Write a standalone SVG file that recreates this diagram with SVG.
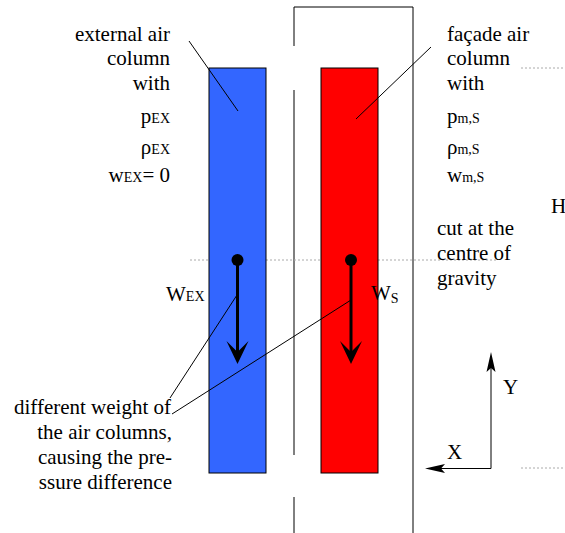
<svg xmlns="http://www.w3.org/2000/svg" width="565" height="533" viewBox="0 0 565 533" font-family="'Liberation Serif', 'Times New Roman', serif">
<style>
text{font-family:'Liberation Serif','Times New Roman',serif;font-size:21px;fill:#000}
.sub{font-size:14px}
.r{text-anchor:end}
.thin{stroke:#000;stroke-width:1;fill:none}
.dash{stroke:#aaa;stroke-width:1;stroke-dasharray:2,2;fill:none}
.force{stroke:#000;stroke-width:3;fill:none}
</style>
<rect width="565" height="533" fill="#fff"/>
<g id="facade-frame" class="thin">
<polyline points="294,46 294,7 413,7 413,533"/>
<line x1="294" y1="90" x2="294" y2="455"/>
<line x1="294" y1="497" x2="294" y2="533"/>
</g>
<g id="guides" class="dash">
<line x1="190" y1="260" x2="496" y2="260"/>
<line x1="521" y1="68" x2="565" y2="68"/>
<line x1="521" y1="468" x2="565" y2="468"/>
</g>
<g id="external-column">
<rect x="209" y="68" width="57" height="405" fill="#3366FF" stroke="#000" stroke-width="1"/>
</g>
<g id="facade-column">
<rect x="321" y="68" width="57" height="405" fill="#FF0000" stroke="#000" stroke-width="1"/>
</g>
<g id="connectors">
<line class="thin" x1="189" y1="41" x2="238" y2="111"/>
<line class="thin" x1="431" y1="47" x2="356" y2="119"/>
<line class="thin" x1="170" y1="398" x2="237" y2="295"/>
<line class="thin" x1="172" y1="414" x2="351" y2="300"/>
<g id="force-ex">
<circle cx="237.5" cy="260" r="6"/>
<line class="force" x1="237.5" y1="260" x2="237.5" y2="352"/>
<polygon points="237.5,364 226.5,341 237.5,352 248.5,341"/>
</g>
<g id="force-s">
<circle cx="351" cy="260" r="6"/>
<line class="force" x1="351" y1="260" x2="351" y2="352"/>
<polygon points="351,364 340,341 351,352 362,341"/>
</g>
<g id="axes">
<polyline class="thin" points="491,368 491,468.5 436,468.5"/>
<polygon points="491,352 486.5,372 491,368 495.5,372"/>
<polygon points="425,468.5 445,464 441,468.5 445,473"/>
</g>
</g>
<g id="label-external">
<text class="r" x="170" y="41">external air</text>
<text class="r" x="170" y="64.5">column</text>
<text class="r" x="170" y="89.5">with</text>
<text class="r" x="170" y="122.5">p<tspan class="sub">EX</tspan></text>
<text class="r" x="170" y="154">ρ<tspan class="sub">EX</tspan></text>
<text class="r" x="170" y="181.5">w<tspan class="sub">EX</tspan>= 0</text>
</g>
<g id="label-facade">
<text x="447" y="41">façade air</text>
<text x="447" y="64.5">column</text>
<text x="447" y="89.5">with</text>
<text x="447" y="122.5">p<tspan class="sub">m,S</tspan></text>
<text x="447" y="154">ρ<tspan class="sub">m,S</tspan></text>
<text x="447" y="181.5">w<tspan class="sub">m,S</tspan></text>
</g>
<g id="label-H"><text x="551" y="213">H</text></g>
<g id="label-cut">
<text x="437" y="235">cut at the</text>
<text x="437" y="259.5">centre of</text>
<text x="437" y="285">gravity</text>
</g>
<g id="label-wex"><text x="166" y="301">W<tspan class="sub">EX</tspan></text></g>
<g id="label-ws"><text x="371" y="300">W<tspan class="sub" dy="3">S</tspan></text></g>
<g id="label-axes">
<text x="503" y="394">Y</text>
<text x="447" y="459">X</text>
</g>
<g id="label-weight">
<text class="r" x="171" y="414">different weight of</text>
<text class="r" x="172" y="439">the air columns,</text>
<text class="r" x="172" y="464">causing the pre-</text>
<text class="r" x="172" y="489">ssure difference</text>
</g>
</svg>
